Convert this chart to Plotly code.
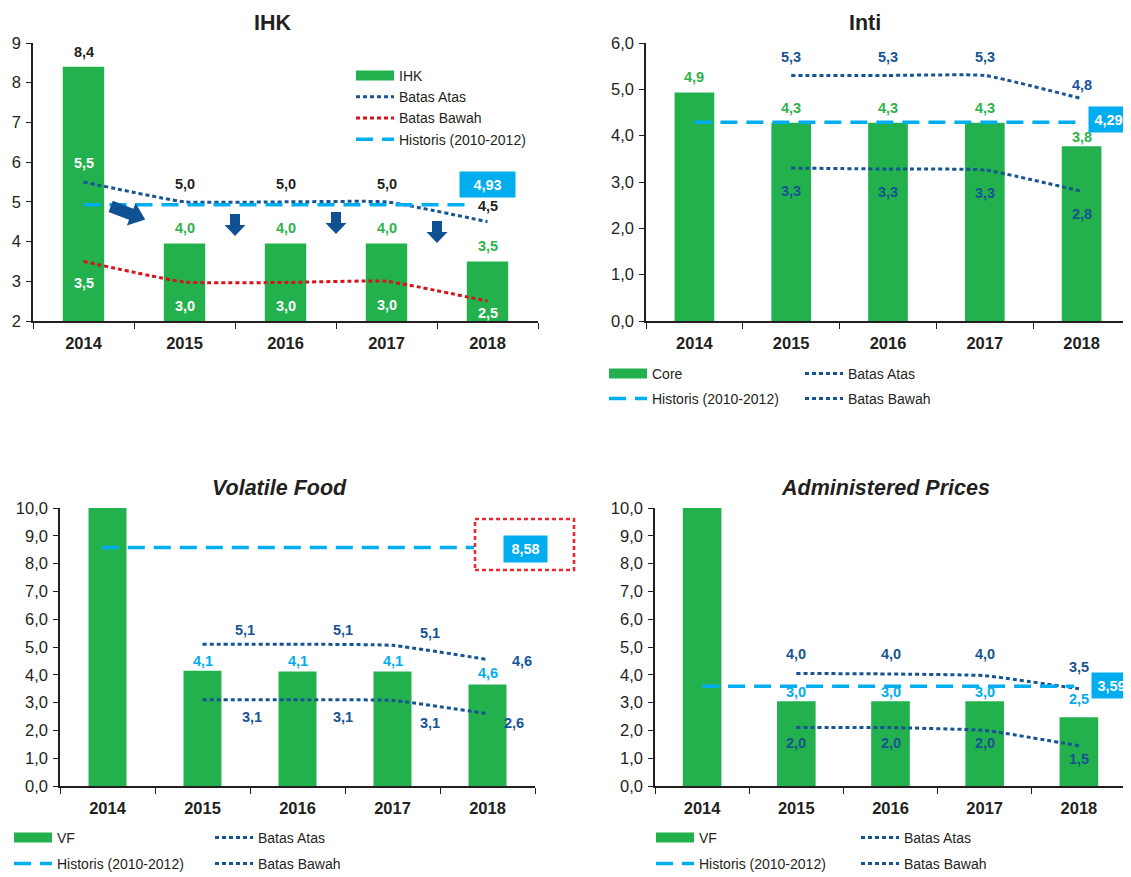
import numpy as np
import plotly.graph_objects as go

# reference canvas and page offset (browser body margin)
W0, H0 = 1131, 877
OFF = 8
W, H = W0 - OFF, H0 - OFF

# ---------------- data ----------------
years = ["2014", "2015", "2016", "2017", "2018"]

ihk_actual = [8.4, 3.95, 3.95, 3.95, 3.5]
ihk_actual_text = ["8,4", "4,0", "4,0", "4,0", "3,5"]
ihk_upper = [5.5, 5.0, 5.0, 5.0, 4.5]
ihk_upper_text = ["5,5", "5,0", "5,0", "5,0", "4,5"]
ihk_lower = [3.5, 2.98, 2.97, 3.0, 2.5]
ihk_lower_text = ["3,5", "3,0", "3,0", "3,0", "2,5"]
ihk_hist = 4.93

inti_core = [4.93, 4.28, 4.28, 4.28, 3.77]
inti_core_text = ["4,9", "4,3", "4,3", "4,3", "3,8"]
inti_upper = [None, 5.3, 5.3, 5.3, 4.8]
inti_upper_text = ["", "5,3", "5,3", "5,3", "4,8"]
inti_lower = [None, 3.3, 3.28, 3.26, 2.8]
inti_lower_text = ["", "3,3", "3,3", "3,3", "2,8"]
inti_hist = 4.29

vf_actual = [10.9, 4.15, 4.12, 4.12, 3.65]
vf_actual_text = ["", "4,1", "4,1", "4,1", "4,6"]
vf_upper = [None, 5.1, 5.1, 5.06, 4.55]
vf_upper_text = ["", "5,1", "5,1", "5,1", "4,6"]
vf_lower = [None, 3.1, 3.1, 3.08, 2.6]
vf_lower_text = ["", "3,1", "3,1", "3,1", "2,6"]
vf_hist = 8.58

ap_actual = [17.6, 3.05, 3.05, 3.05, 2.47]
ap_actual_text = ["", "3,0", "3,0", "3,0", "2,5"]
ap_upper = [None, 4.05, 4.03, 3.97, 3.5]
ap_upper_text = ["", "4,0", "4,0", "4,0", "3,5"]
ap_lower = [None, 2.1, 2.1, 2.0, 1.45]
ap_lower_text = ["", "2,0", "2,0", "2,0", "1,5"]
ap_hist = 3.59

# ---------------- style ----------------
FONT = "Liberation Sans, Arial, Helvetica, sans-serif"
BLACK = "#231F20"
GREEN = "#23B14D"
GREEN_TXT = "#2EB24B"
NAVY = "#175493"
RED = "#D4151C"
LBLUE = "#00AEEF"
WHITE = "#FFFFFF"
ARROW = "#0F5193"

xs = list(range(len(years)))

fig = go.Figure()


def fx(px):
    return (px - OFF) / W


def fy(py):
    return 1 - (py - OFF) / H


def dom_x(a, b):
    return [fx(a), fx(b)]


def dom_y(top, bottom):
    return [fy(bottom), fy(top)]


panels = [
    dict(k="", xpx=(33, 538), ypx=(43, 321), yr=(2, 9), fmt="d",
         title="<b>IHK</b>", tx=273, ty=23),
    dict(k="2", xpx=(646, 1130), ypx=(43, 321), yr=(0, 6), fmt=".1f",
         title="<b>Inti</b>", tx=865, ty=23),
    dict(k="3", xpx=(60, 535), ypx=(508, 786), yr=(0, 10), fmt=".1f",
         title="<b><i>Volatile Food</i></b>", tx=279, ty=488),
    dict(k="4", xpx=(655, 1126), ypx=(508, 786), yr=(0, 10), fmt=".1f",
         title="<b><i>Administered Prices</i></b>", tx=885, ty=488),
]

for p in panels:
    k = p["k"]
    fig.update_layout(**{
        "xaxis" + k: dict(
            domain=dom_x(*p["xpx"]), range=[-0.5, 4.5], anchor="y" + k,
            tickmode="array", tickvals=xs, ticktext=years,
            ticks="outside", ticklen=6, tickcolor="rgba(0,0,0,0)",
            minor=dict(tickmode="array", tickvals=[i - 0.5 for i in range(6)],
                       ticks="outside", ticklen=6, tickcolor=BLACK, tickwidth=1.3),
            showline=True, linecolor=BLACK, linewidth=1.5,
            showgrid=False, zeroline=False,
            tickfont=dict(family=FONT, size=16.5, color=BLACK, weight="bold"),
        ),
        "yaxis" + k: dict(
            domain=dom_y(*p["ypx"]), range=list(p["yr"]), anchor="x" + k,
            dtick=1, tickformat=p["fmt"], ticks="outside", ticklen=5,
            tickcolor=BLACK, tickwidth=1.3, ticklabelstandoff=2,
            showline=True, linecolor=BLACK, linewidth=1.5,
            showgrid=False, zeroline=False,
            tickfont=dict(family=FONT, size=16.5, color=BLACK),
        ),
    })
    fig.add_annotation(x=fx(p["tx"]), y=fy(p["ty"]), xref="paper", yref="paper",
                       xanchor="center", yanchor="middle",
                       text=p["title"], showarrow=False,
                       font=dict(family=FONT, size=21.5, color=BLACK))


def ax(k):
    return dict(xaxis="x" + k, yaxis="y" + k)


def legend_box(name, leg, k):
    fig.add_trace(go.Scatter(x=[None], y=[None], mode="lines", name=name,
                             line=dict(color=GREEN, width=11), legend=leg,
                             hoverinfo="skip", **ax(k)))


def bars(vals, k, width):
    fig.add_trace(go.Bar(x=xs, y=vals, width=width, marker=dict(color=GREEN, line_width=0),
                         showlegend=False, **ax(k)))


def dotted(vals, name, color, leg, k):
    fig.add_trace(go.Scatter(x=xs, y=vals, mode="lines", name=name, legend=leg,
                             line=dict(color=color, width=3, dash="4px,3px",
                                       shape="spline", smoothing=0.35),
                             connectgaps=False, **ax(k)))


def hist_line(val, x_end, leg, k, x_start=0):
    fig.add_trace(go.Scatter(x=[x_start, x_end], y=[val, val], mode="lines",
                             name="Historis (2010-2012)", legend=leg,
                             line=dict(color=LBLUE, width=3.5, dash="17px,9px"), **ax(k)))


def labels(vals, texts, k, dy, colors, dx=0.0):
    n = len(vals)
    dys = dy if isinstance(dy, list) else [dy] * n
    dxs = dx if isinstance(dx, list) else [dx] * n
    cols = colors if isinstance(colors, list) else [colors] * n
    for i in range(n):
        if vals[i] is None or texts[i] == "":
            continue
        fig.add_annotation(x=xs[i] + dxs[i], y=vals[i] + dys[i], xref="x" + k, yref="y" + k,
                           xanchor="center", yanchor="middle",
                           text="<b>%s</b>" % texts[i], showarrow=False,
                           font=dict(family=FONT, size=14.5, color=cols[i]))


def hist_box(val, k, x, dy, w, h=23):
    fig.add_annotation(x=x, y=val + dy, xref="x" + k, yref="y" + k,
                       xanchor="center", yanchor="middle",
                       text="<b>%s</b>" % ("%.2f" % val).replace(".", ","),
                       showarrow=False, bgcolor=LBLUE, width=w, height=h, borderpad=1,
                       font=dict(family=FONT, size=14.5, color=WHITE))


# ---- IHK ----
legend_box("IHK", "legend", "")
bars(ihk_actual, "", 0.41)
dotted(ihk_upper, "Batas Atas", NAVY, "legend", "")
dotted(ihk_lower, "Batas Bawah", RED, "legend", "")
hist_line(ihk_hist, 3.8, "legend", "")
labels(ihk_actual, ihk_actual_text, "", 0.38, [BLACK, GREEN_TXT, GREEN_TXT, GREEN_TXT, GREEN_TXT])
labels(ihk_upper, ihk_upper_text, "", [0.48, 0.45, 0.45, 0.45, 0.4], [WHITE, BLACK, BLACK, BLACK, BLACK])
labels(ihk_lower, ihk_lower_text, "", [-0.55, -0.6, -0.6, -0.6, -0.3], WHITE)
hist_box(ihk_hist, "", 4.0, 0.5, 53)

# ---- Inti ----
legend_box("Core", "legend2", "2")
bars(inti_core, "2", 0.41)
dotted(inti_upper, "Batas Atas", NAVY, "legend2", "2")
hist_line(inti_hist, 4.0, "legend3", "2")
dotted(inti_lower, "Batas Bawah", NAVY, "legend3", "2")
labels(inti_core, inti_core_text, "2", [0.34, 0.32, 0.32, 0.32, 0.2], GREEN_TXT)
labels(inti_upper, inti_upper_text, "2", [0, 0.4, 0.4, 0.4, 0.3], NAVY)
labels(inti_lower, inti_lower_text, "2", -0.5, NAVY)
hist_box(inti_hist, "2", 4.28, 0.05, 37)

# ---- Volatile Food ----
legend_box("VF", "legend4", "3")
bars(vf_actual, "3", 0.4)
dotted(vf_upper, "Batas Atas", NAVY, "legend4", "3")
hist_line(vf_hist, 3.86, "legend5", "3", x_start=-0.06)
dotted(vf_lower, "Batas Bawah", NAVY, "legend5", "3")
labels(vf_actual, vf_actual_text, "3", [0, 0.35, 0.38, 0.38, 0.42], LBLUE)
labels(vf_upper, vf_upper_text, "3", [0, 0.5, 0.5, 0.44, -0.05], NAVY,
       dx=[0, 0.45, 0.48, 0.39, 0.36])
labels(vf_lower, vf_lower_text, "3", [0, -0.6, -0.6, -0.81, -0.33], NAVY,
       dx=[0, 0.52, 0.48, 0.39, 0.28])
hist_box(vf_hist, "3", 4.40, -0.05, 41, 24)
fig.add_shape(type="rect", xref="paper", yref="paper",
              x0=fx(475), x1=fx(574), y0=fy(570), y1=fy(519),
              line=dict(color="#EC2830", width=2.6, dash="4px,3px"))

# ---- Administered Prices ----
legend_box("VF", "legend6", "4")
bars(ap_actual, "4", 0.41)
dotted(ap_upper, "Batas Atas", NAVY, "legend6", "4")
hist_line(ap_hist, 3.95, "legend7", "4")
dotted(ap_lower, "Batas Bawah", NAVY, "legend7", "4")
labels(ap_actual, ap_actual_text, "4", [0, 0.33, 0.33, 0.33, 0.66], LBLUE)
labels(ap_upper, ap_upper_text, "4", [0, 0.7, 0.72, 0.78, 0.78], NAVY)
labels(ap_lower, ap_lower_text, "4", [0, -0.55, -0.55, -0.45, -0.48], NAVY)
hist_box(ap_hist, "4", 4.35, 0.02, 37)


# ---- arrows in IHK panel (decorative) ----
def arrow_shape(xc, yc, angle_deg, L, shaft, head, headlen):
    pts = [(-L / 2, -shaft / 2), (L / 2 - headlen, -shaft / 2), (L / 2 - headlen, -head / 2),
           (L / 2, 0), (L / 2 - headlen, head / 2), (L / 2 - headlen, shaft / 2),
           (-L / 2, shaft / 2)]
    a = np.radians(angle_deg)
    rot = [(px * np.cos(a) - py * np.sin(a), px * np.sin(a) + py * np.cos(a)) for px, py in pts]
    path = "M" + " L".join("%.2f,%.2f" % (u, v) for u, v in rot) + " Z"
    fig.add_shape(type="path", xref="x", yref="y", xsizemode="pixel", ysizemode="pixel",
                  xanchor=xc, yanchor=yc, path=path, fillcolor=ARROW, line=dict(width=0))


arrow_shape(0.44, 4.72, -21, 37, 12, 24, 15)
for xc, yc in [(1.5, 4.42), (2.5, 4.47), (3.5, 4.24)]:
    arrow_shape(xc, yc, -90, 22, 10, 21, 11)

# ---- legends ----
leg_common = dict(bgcolor="rgba(0,0,0,0)", font=dict(family=FONT, size=14, color=BLACK),
                  itemwidth=38, tracegroupgap=0, itemclick=False, itemdoubleclick=False)
fig.update_layout(
    legend=dict(x=fx(351), y=fy(60), xanchor="left", yanchor="top", **leg_common),
    legend2=dict(x=fx(604), y=fy(374), xanchor="left", yanchor="middle",
                 orientation="h", entrywidth=143, **leg_common),
    legend3=dict(x=fx(604), y=fy(399), xanchor="left", yanchor="middle",
                 orientation="h", entrywidth=143, **leg_common),
    legend4=dict(x=fx(9), y=fy(838), xanchor="left", yanchor="middle",
                 orientation="h", entrywidth=148, **leg_common),
    legend5=dict(x=fx(9), y=fy(864), xanchor="left", yanchor="middle",
                 orientation="h", entrywidth=148, **leg_common),
    legend6=dict(x=fx(651), y=fy(838), xanchor="left", yanchor="middle",
                 orientation="h", entrywidth=152, **leg_common),
    legend7=dict(x=fx(651), y=fy(864), xanchor="left", yanchor="middle",
                 orientation="h", entrywidth=152, **leg_common),
)

fig.update_layout(
    width=W, height=H, margin=dict(l=0, r=0, t=0, b=0, autoexpand=False),
    paper_bgcolor="white", plot_bgcolor="white",
    separators=",.", barmode="overlay",
    font=dict(family=FONT, color=BLACK),
)

fig.write_html("out.html")
